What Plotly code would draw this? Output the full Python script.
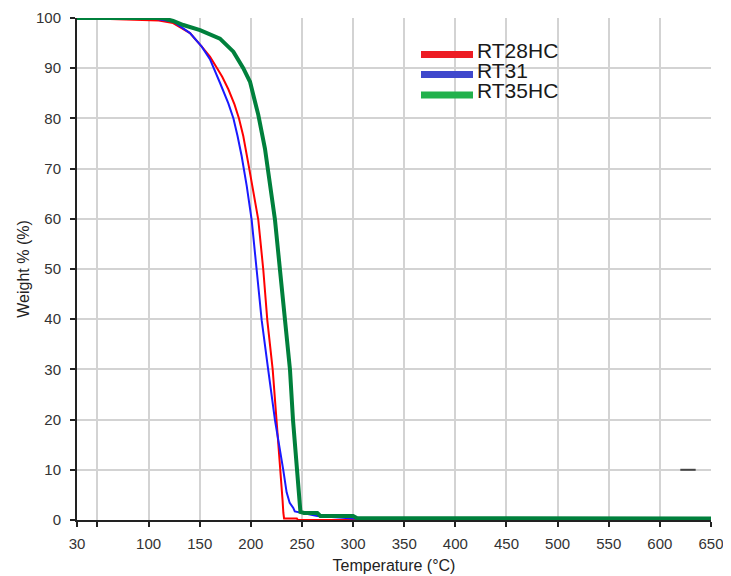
import plotly.graph_objects as go

# ---- data ----
rt28hc_T = [30, 90, 110, 124, 140.5, 152, 160, 167, 172, 178, 184, 188.4, 192.6, 198, 203, 207.3,
            212.2, 216.1, 221.4, 225.3, 229.2, 231, 231.8, 232.5, 245, 246, 416]
rt28hc_W = [100, 99.7, 99.5, 99, 97, 94.3, 92.3, 90, 88.3, 85.8, 82.8, 80, 76.5, 70.5, 65, 59.8,
            49.8, 39.8, 29.9, 19.9, 10, 4, 1.4, 0.3, 0.3, 0, 0]

rt31_T = [30, 105, 111, 124, 140.5, 152, 160, 164, 170, 178, 183, 187, 191, 196, 200.8, 205.7,
          210.6, 217, 223.6, 231.7, 235, 238, 241.5, 243, 251, 256, 265, 300, 450]
rt31_W = [100, 99.9, 99.7, 99.3, 97, 94.3, 91.8, 90, 87, 83, 80, 76.5, 72.5, 66.5, 59.8, 49.8,
          39.8, 29.9, 19.9, 10, 5.5, 3.4, 2.4, 1.7, 1.4, 1.2, 0.8, 0.3, 0.1]

rt35hc_T = [30, 114, 124, 134, 150.3, 169.8, 182.9, 192.6, 199.2, 203, 207.3, 213.8, 216.8, 219,
            223.6, 228.5, 233.4, 238.3, 241.2, 245, 247, 248.5, 252, 265, 268, 300, 304, 650]
rt35hc_W = [100, 100, 99.4, 98.6, 97.6, 95.9, 93.3, 90, 87.3, 84, 80.7, 74, 69.7, 67,
            59.8, 49.8, 39.8, 29.9, 20, 10, 4, 1.6, 1.4, 1.4, 0.8, 0.8, 0.35, 0.3]

dash_T = [620, 635]
dash_W = [10, 10]

series_names = ["RT28HC", "RT31", "RT35HC"]
legend_colors = ["#ed1c24", "#3f48cc", "#22b14c"]

x_tickvals = [30, 50, 100, 150, 200, 250, 300, 350, 400, 450, 500, 550, 600, 650]
x_ticktext = ["30", "", "100", "150", "200", "250", "300", "350", "400", "450", "500", "550", "600", "650"]
y_tickvals = [0, 10, 20, 30, 40, 50, 60, 70, 80, 90, 100]

# the page places the figure 8px from the top-left corner
OFF = 8
W, H = 731 - OFF, 576 - OFF
L, R, T, B = 77 - OFF, 20, 18 - OFF, 56

fig = go.Figure()
fig.add_trace(go.Scatter(x=rt28hc_T, y=rt28hc_W, mode="lines", name="RT28HC",
                         line=dict(color="#ff0000", width=2), cliponaxis=False))
fig.add_trace(go.Scatter(x=rt31_T, y=rt31_W, mode="lines", name="RT31",
                         line=dict(color="#1a1aff", width=2), cliponaxis=False))
fig.add_trace(go.Scatter(x=rt35hc_T, y=rt35hc_W, mode="lines", name="RT35HC",
                         line=dict(color="#00803c", width=4), cliponaxis=False))
fig.add_trace(go.Scatter(x=dash_T, y=dash_W, mode="lines", showlegend=False,
                         line=dict(color="#444444", width=2)))

# manual legend (reference pixel positions converted to paper coords)
pw, ph = W - L - R, H - T - B
def px2paper(px, py):
    return (px - OFF - L) / pw, (H - B - (py - OFF)) / ph

line_rows = [54.5, 74.5, 95]
text_rows = [50.5, 70.5, 90.5]
for name, col, ly, ty in zip(series_names, legend_colors, line_rows, text_rows):
    x0, y0 = px2paper(421, ly)
    x1, _ = px2paper(473, ly)
    fig.add_shape(type="line", xref="paper", yref="paper", x0=x0, x1=x1, y0=y0, y1=y0,
                  line=dict(color=col, width=7))
    tx, tyy = px2paper(475, ty)
    fig.add_annotation(xref="paper", yref="paper", x=tx, y=tyy, text=name, showarrow=False,
                       xanchor="left", yanchor="middle",
                       font=dict(family="Liberation Sans, Arial", size=21, color="#1a1a1a"))

fig.update_layout(
    width=W, height=H,
    margin=dict(l=L, r=R, t=T, b=B, pad=0, autoexpand=False),
    paper_bgcolor="white", plot_bgcolor="white",
    showlegend=False,
    font=dict(family="Liberation Sans, Arial", size=15, color="#333333"),
)
fig.update_xaxes(range=[30, 650], tickmode="array", tickvals=x_tickvals, ticktext=x_ticktext,
                 showgrid=True, gridcolor="#d3d3d3", gridwidth=2,
                 showline=True, linecolor="#222222", linewidth=2,
                 ticks="outside", ticklen=5, tickcolor="#222222", tickwidth=2,
                 zeroline=False, layer="below traces", ticklabelstandoff=4, automargin=False,
                 title=dict(text="Temperature (°C)", font=dict(size=16, color="#222222"), standoff=9))
fig.update_yaxes(range=[0, 100], tickmode="array", tickvals=y_tickvals,
                 showgrid=True, gridcolor="#d3d3d3", gridwidth=2,
                 showline=True, linecolor="#222222", linewidth=2,
                 ticks="outside", ticklen=5, tickcolor="#222222", tickwidth=2,
                 zeroline=False, layer="below traces", ticklabelstandoff=6, automargin=False,
                 title=dict(text="Weight % (%)", font=dict(size=16, color="#222222"), standoff=2))

fig.write_html("out.html")
